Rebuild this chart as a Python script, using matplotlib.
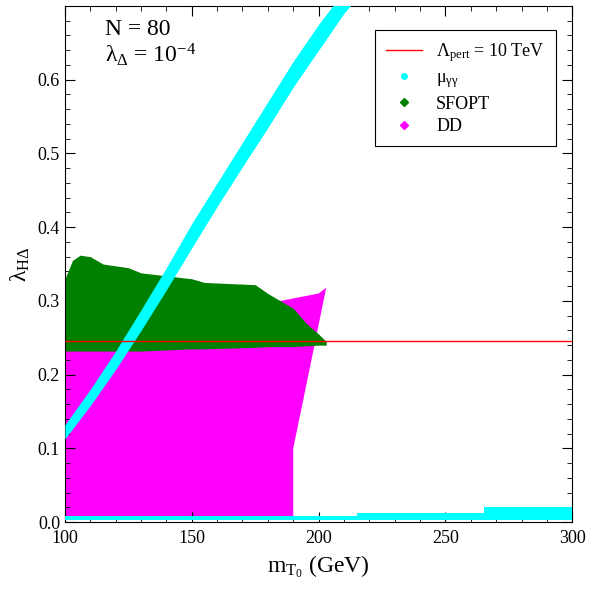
import numpy as np
import matplotlib.pyplot as plt
from matplotlib.lines import Line2D
from matplotlib.ticker import MultipleLocator, FixedLocator

plt.rcParams['font.family'] = ['Liberation Serif', 'DejaVu Serif']
plt.rcParams['mathtext.fontset'] = 'stix'
plt.rcParams['mathtext.default'] = 'regular'

# mu_gammagamma band (boundaries)
band_x = [100, 110, 120, 130, 140, 150, 160, 170, 180, 190, 200, 210, 215]
band_lo = [0.113, 0.158, 0.207, 0.26, 0.315, 0.372, 0.428, 0.482, 0.535, 0.59, 0.64, 0.69, 0.71]
band_hi = [0.132, 0.18, 0.232, 0.288, 0.345, 0.405, 0.46, 0.515, 0.57, 0.625, 0.675, 0.72, 0.73]
# low cyan band
low_x = [100, 215, 215, 265, 265, 300]
low_lo = [0.003, 0.003, 0.003, 0.003, 0.003, 0.003]
low_hi = [0.008, 0.008, 0.013, 0.013, 0.02, 0.02]
# SFOPT region
sf_x = [100, 103, 106, 110, 115, 125, 130, 150, 155, 175, 180, 190, 195, 200, 203]
sf_top = [0.33, 0.355, 0.362, 0.36, 0.35, 0.345, 0.338, 0.33, 0.325, 0.322, 0.31, 0.29, 0.27, 0.255, 0.245]
sf_bot = [0.232, 0.232, 0.232, 0.232, 0.232, 0.232, 0.232, 0.235, 0.235, 0.237, 0.238, 0.238, 0.239, 0.24, 0.24]
# DD region outline
dd_x = [100, 190, 190, 196, 203, 200, 185, 170, 160, 150, 100]
dd_y = [0.006, 0.006, 0.1, 0.2, 0.318, 0.31, 0.30, 0.295, 0.29, 0.27, 0.25]
lam_pert = 0.245

fig, ax = plt.subplots(figsize=(5.9, 5.9), dpi=100)
ax.fill(dd_x, dd_y, color='magenta', lw=0, zorder=1)
ax.fill_between(sf_x, sf_bot, sf_top, color='green', lw=0, zorder=2)
ax.fill_between(band_x, band_lo, band_hi, color='cyan', lw=0, zorder=3)
ax.fill_between(low_x, low_lo, low_hi, color='cyan', lw=0, zorder=3)
ax.axhline(lam_pert, color='red', lw=1, zorder=4)

ax.set_xlim(100, 300)
ax.set_ylim(0, 0.7)
ax.xaxis.set_major_locator(MultipleLocator(50))
ax.xaxis.set_minor_locator(MultipleLocator(10))
ax.yaxis.set_major_locator(FixedLocator([0, 0.1, 0.2, 0.3, 0.4, 0.5, 0.6]))
ax.yaxis.set_minor_locator(MultipleLocator(0.02))
ax.tick_params(which='both', direction='in', top=True, right=True, labelsize=13)
ax.tick_params(axis='x', pad=6)
ax.tick_params(which='major', length=7)
ax.tick_params(which='minor', length=3.5)
ax.set_xlabel(r'$m_{T_0}$ (GeV)', fontsize=17)
ax.set_ylabel(r'$\lambda_{H\Delta}$', fontsize=17)
ax.text(0.08, 0.975, 'N = 80\n' + r'$\lambda_{\Delta}$ = 10$^{-4}$', transform=ax.transAxes,
        fontsize=17, va='top', linespacing=1.1)

handles = [Line2D([], [], color='red', lw=1),
           Line2D([], [], color='cyan', marker='o', ls='', ms=4),
           Line2D([], [], color='green', marker='D', ls='', ms=4),
           Line2D([], [], color='magenta', marker='D', ls='', ms=4)]
labels = [r'$\Lambda_{pert}$ = 10 TeV', r'$\mu_{\gamma\gamma}$', 'SFOPT', 'DD']
leg = ax.legend(handles, labels, loc='upper right', bbox_to_anchor=(0.985, 0.97), fontsize=13,
                fancybox=False, edgecolor='black', framealpha=1, borderpad=0.6, labelspacing=0.3)
leg.get_frame().set_linewidth(0.8)

fig.subplots_adjust(left=0.11, right=0.97, top=0.99, bottom=0.115)
fig.savefig('out.png')
